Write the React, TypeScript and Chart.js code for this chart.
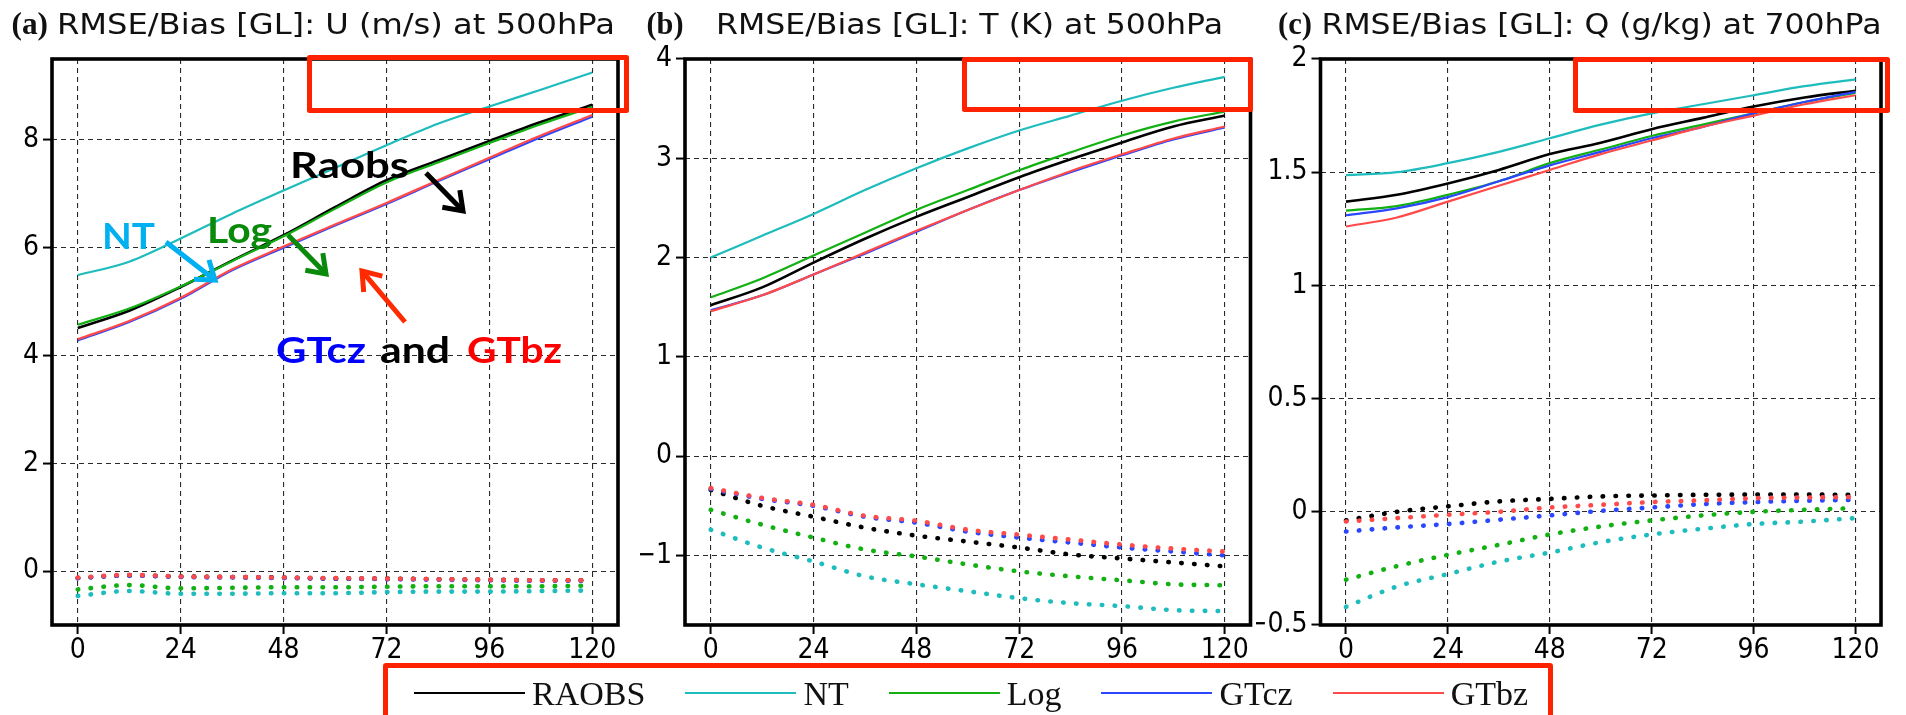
import React, { useEffect, useRef } from 'react';
import { Chart, registerables } from 'chart.js';

Chart.register(...registerables);

// ---------------- DATA ----------------
const HOURS = [0, 12, 24, 36, 48, 60, 72, 84, 96, 108, 120];
const X_TICKS = [0, 24, 48, 72, 96, 120];
const U_TICKS = [0, 2, 4, 6, 8];
const T_TICKS = [-1, 0, 1, 2, 3, 4];
const Q_TICKS = [-0.5, 0, 0.5, 1, 1.5, 2];
const SERIES_NAMES = ['RAOBS', 'NT', 'Log', 'GTcz', 'GTbz'];

// (a) U at 500 hPa — RMSE
const U_RMSE_RAOBS = [4.51, 4.83, 5.27, 5.76, 6.23, 6.75, 7.25, 7.62, 7.98, 8.33, 8.65];
const U_RMSE_NT = [5.49, 5.74, 6.17, 6.63, 7.06, 7.48, 7.9, 8.3, 8.62, 8.93, 9.25];
const U_RMSE_LOG = [4.57, 4.87, 5.28, 5.75, 6.21, 6.72, 7.21, 7.58, 7.94, 8.29, 8.61];
const U_RMSE_GTCZ = [4.28, 4.62, 5.05, 5.58, 6.0, 6.41, 6.81, 7.23, 7.64, 8.05, 8.43];
const U_RMSE_GTBZ = [4.3, 4.64, 5.07, 5.6, 6.02, 6.43, 6.83, 7.25, 7.67, 8.08, 8.46];
// (a) U at 500 hPa — Bias
const U_BIAS_RAOBS = [-0.13, -0.08, -0.1, -0.11, -0.12, -0.14, -0.14, -0.15, -0.16, -0.17, -0.17];
const U_BIAS_NT = [-0.46, -0.37, -0.42, -0.42, -0.41, -0.41, -0.39, -0.38, -0.38, -0.37, -0.36];
const U_BIAS_LOG = [-0.34, -0.26, -0.32, -0.31, -0.3, -0.3, -0.29, -0.28, -0.28, -0.28, -0.27];
const U_BIAS_GTCZ = [-0.13, -0.08, -0.11, -0.12, -0.13, -0.14, -0.15, -0.16, -0.17, -0.18, -0.18];
const U_BIAS_GTBZ = [-0.12, -0.07, -0.1, -0.11, -0.12, -0.13, -0.14, -0.15, -0.16, -0.17, -0.17];

// (b) T at 500 hPa — RMSE
const T_RMSE_RAOBS = [1.52, 1.7, 1.95, 2.19, 2.41, 2.61, 2.81, 2.99, 3.16, 3.32, 3.43];
const T_RMSE_NT = [2.0, 2.22, 2.44, 2.68, 2.9, 3.1, 3.28, 3.43, 3.58, 3.71, 3.82];
const T_RMSE_LOG = [1.6, 1.79, 2.02, 2.25, 2.48, 2.68, 2.88, 3.06, 3.23, 3.37, 3.47];
const T_RMSE_GTCZ = [1.47, 1.62, 1.83, 2.04, 2.26, 2.48, 2.68, 2.86, 3.03, 3.19, 3.31];
const T_RMSE_GTBZ = [1.46, 1.62, 1.83, 2.05, 2.27, 2.48, 2.68, 2.87, 3.04, 3.2, 3.32];
// (b) T at 500 hPa — Bias
const T_BIAS_RAOBS = [-0.34, -0.5, -0.61, -0.72, -0.8, -0.86, -0.92, -0.99, -1.03, -1.07, -1.11];
const T_BIAS_NT = [-0.74, -0.92, -1.06, -1.21, -1.29, -1.36, -1.43, -1.48, -1.51, -1.55, -1.56];
const T_BIAS_LOG = [-0.54, -0.69, -0.82, -0.94, -1.01, -1.09, -1.16, -1.21, -1.25, -1.29, -1.3];
const T_BIAS_GTCZ = [-0.33, -0.43, -0.5, -0.61, -0.67, -0.76, -0.82, -0.87, -0.92, -0.96, -1.0];
const T_BIAS_GTBZ = [-0.32, -0.42, -0.49, -0.6, -0.65, -0.74, -0.79, -0.84, -0.89, -0.93, -0.96];

// (c) Q at 700 hPa — RMSE
const Q_RMSE_RAOBS = [1.37, 1.4, 1.45, 1.51, 1.58, 1.63, 1.69, 1.74, 1.79, 1.83, 1.86];
const Q_RMSE_NT = [1.487, 1.5, 1.54, 1.59, 1.65, 1.71, 1.76, 1.8, 1.84, 1.88, 1.91];
const Q_RMSE_LOG = [1.33, 1.35, 1.4, 1.46, 1.54, 1.6, 1.66, 1.71, 1.76, 1.81, 1.85];
const Q_RMSE_GTCZ = [1.31, 1.34, 1.39, 1.46, 1.53, 1.59, 1.65, 1.7, 1.76, 1.81, 1.855];
const Q_RMSE_GTBZ = [1.26, 1.3, 1.37, 1.44, 1.51, 1.58, 1.64, 1.7, 1.75, 1.8, 1.84];
// (c) Q at 700 hPa — Bias
const Q_BIAS_RAOBS = [-0.038, 0.0, 0.024, 0.046, 0.057, 0.068, 0.072, 0.075, 0.076, 0.076, 0.075];
const Q_BIAS_NT = [-0.42, -0.33, -0.275, -0.22, -0.18, -0.134, -0.1, -0.075, -0.054, -0.043, -0.028];
const Q_BIAS_LOG = [-0.3, -0.24, -0.19, -0.146, -0.1, -0.065, -0.038, -0.016, 0.0, 0.009, 0.016];
const Q_BIAS_GTCZ = [-0.087, -0.069, -0.054, -0.035, -0.016, 0.004, 0.019, 0.034, 0.043, 0.049, 0.053];
const Q_BIAS_GTBZ = [-0.043, -0.028, -0.013, 0.0, 0.019, 0.031, 0.043, 0.051, 0.06, 0.063, 0.065];

// ---------------- STYLE / LAYOUT ----------------
const COLORS = ['#000000', '#1ebcbc', '#12b012', '#2a46ff', '#ff4a4a'];
const RED_BOX = '#ff2200';
const TICK_FONT = "'Liberation Sans Narrow', 'DejaVu Sans Condensed', 'Roboto Condensed', sans-serif";
const TITLE_FONT = "'DejaVu Sans', sans-serif";
const LABEL_FONT = "'Liberation Serif', 'Times New Roman', serif";
const ANNOT_FONT = "Lato, 'Open Sans', sans-serif";
const TICK_SIZE = 28;
const PAGE_H = 715;
const PLOT_TOP = 59;
const PLOT_BOTTOM = 625;
const X_AXIS_H = 50;

const PANELS = [
  {
    key: 'a', label: '(a)', title: 'RMSE/Bias [GL]: U (m/s) at 500hPa',
    rmse: [U_RMSE_RAOBS, U_RMSE_NT, U_RMSE_LOG, U_RMSE_GTCZ, U_RMSE_GTBZ],
    bias: [U_BIAS_RAOBS, U_BIAS_NT, U_BIAS_LOG, U_BIAS_GTCZ, U_BIAS_GTBZ],
    yMin: -1, yMax: 9.5, yTicks: U_TICKS,
    canvasLeft: 0, canvasWidth: 640, plotLeft: 52, plotRight: 618,
    labelX: 11.5, labelW: 36.5, titleX: 57, titleW: 558,
    box: [307, 55, 629, 113], annotate: true,
  },
  {
    key: 'b', label: '(b)', title: 'RMSE/Bias [GL]: T (K) at 500hPa',
    rmse: [T_RMSE_RAOBS, T_RMSE_NT, T_RMSE_LOG, T_RMSE_GTCZ, T_RMSE_GTBZ],
    bias: [T_BIAS_RAOBS, T_BIAS_NT, T_BIAS_LOG, T_BIAS_GTCZ, T_BIAS_GTBZ],
    yMin: -1.7, yMax: 4, yTicks: T_TICKS,
    canvasLeft: 640, canvasWidth: 616, plotLeft: 685, plotRight: 1250.5,
    labelX: 646.5, labelW: 37, titleX: 716, titleW: 507,
    box: [962, 57, 1253, 112], annotate: false,
  },
  {
    key: 'c', label: '(c)', title: 'RMSE/Bias [GL]: Q (g/kg) at 700hPa',
    rmse: [Q_RMSE_RAOBS, Q_RMSE_NT, Q_RMSE_LOG, Q_RMSE_GTCZ, Q_RMSE_GTBZ],
    bias: [Q_BIAS_RAOBS, Q_BIAS_NT, Q_BIAS_LOG, Q_BIAS_GTCZ, Q_BIAS_GTBZ],
    yMin: -0.5, yMax: 2, yTicks: Q_TICKS,
    canvasLeft: 1256, canvasWidth: 650, plotLeft: 1320.5, plotRight: 1881,
    labelX: 1278, labelW: 34, titleX: 1321.5, titleW: 560,
    box: [1573, 57, 1890, 113], annotate: false,
  },
];

// annotation layout for panel (a)
const ANNOT_TEXTS = [
  { text: 'Raobs', x: 290, base: 178, w: 119, color: '#000000' },
  { text: 'NT', x: 102, base: 249, w: 53, color: '#00b0f0' },
  { text: 'Log', x: 207, base: 243, w: 65, color: '#0a8a0a' },
  { text: 'GTcz', x: 276, base: 363, w: 90, color: '#0000ff' },
  { text: 'and', x: 380, base: 363, w: 70, color: '#000000' },
  { text: 'GTbz', x: 467, base: 363, w: 95, color: '#ff0000' },
];
const ANNOT_ARROWS = [
  { from: [166, 242], to: [215, 280], color: '#00b0f0' },
  { from: [288, 235], to: [326, 274], color: '#0a8a0a' },
  { from: [426, 173], to: [463, 211], color: '#000000' },
  { from: [405, 322], to: [362, 271], color: '#ff2a00' },
];

function fmtTick(v: number) {
  const s = String(Math.abs(v));
  return v < 0 ? '\u2212' + s : s;
}

function fitText(ctx: CanvasRenderingContext2D, text: string, x: number, base: number, width: number, font: string, color: string) {
  ctx.save();
  ctx.font = font;
  ctx.fillStyle = color;
  ctx.textAlign = 'left';
  ctx.textBaseline = 'alphabetic';
  const w = ctx.measureText(text).width || 1;
  ctx.translate(x, base);
  ctx.scale(width / w, 1);
  ctx.fillText(text, 0, 0);
  ctx.restore();
}

function drawArrow(ctx: CanvasRenderingContext2D, from: number[], to: number[], color: string) {
  const ang = Math.atan2(to[1] - from[1], to[0] - from[0]);
  const head = 21;
  const spread = 0.62;
  ctx.save();
  ctx.strokeStyle = color;
  ctx.lineWidth = 5;
  ctx.lineCap = 'butt';
  ctx.lineJoin = 'miter';
  ctx.beginPath();
  ctx.moveTo(from[0], from[1]);
  ctx.lineTo(to[0] - Math.cos(ang) * 3, to[1] - Math.sin(ang) * 3);
  ctx.stroke();
  ctx.beginPath();
  ctx.moveTo(to[0] - head * Math.cos(ang - spread), to[1] - head * Math.sin(ang - spread));
  ctx.lineTo(to[0], to[1]);
  ctx.lineTo(to[0] - head * Math.cos(ang + spread), to[1] - head * Math.sin(ang + spread));
  ctx.stroke();
  ctx.restore();
}

function makeConfig(p: any) {
  const datasets: any[] = [];
  SERIES_NAMES.forEach((name, i) => {
    datasets.push({
      label: name + ' RMSE',
      data: HOURS.map((h, k) => ({ x: h, y: p.rmse[i][k] })),
      borderColor: COLORS[i],
      backgroundColor: COLORS[i],
      borderWidth: i === 0 ? 2.6 : 2.2,
      pointRadius: 0,
      cubicInterpolationMode: 'monotone',
      fill: false,
      order: 20 - i,
    });
    datasets.push({
      label: name + ' Bias',
      data: HOURS.map((h, k) => ({ x: h, y: p.bias[i][k] })),
      borderColor: COLORS[i],
      backgroundColor: COLORS[i],
      borderWidth: 4.6,
      borderDash: [0.5, 12.4],
      borderCapStyle: 'round',
      pointRadius: 0,
      cubicInterpolationMode: 'monotone',
      fill: false,
      order: 10 - i,
    });
  });

  const off = p.canvasLeft;
  const decor = {
    id: 'decor' + p.key,
    afterDraw(chart: any) {
      const ctx = chart.ctx as CanvasRenderingContext2D;
      const a = chart.chartArea;
      ctx.save();
      // frame
      ctx.strokeStyle = '#000';
      ctx.lineWidth = 3.6;
      ctx.strokeRect(a.left, a.top, a.right - a.left, a.bottom - a.top);
      // title
      fitText(ctx, p.label, p.labelX - off, 34, p.labelW, "bold 31px " + LABEL_FONT, '#111');
      fitText(ctx, p.title, p.titleX - off, 34, p.titleW, "28px " + TITLE_FONT, '#111');
      // highlight box
      const [x0, y0, x1, y1] = p.box;
      ctx.strokeStyle = RED_BOX;
      ctx.lineWidth = 5;
      ctx.lineJoin = 'round';
      ctx.strokeRect(x0 - off + 2.5, y0 + 2.5, x1 - x0 - 5, y1 - y0 - 5);
      if (p.annotate) {
        ANNOT_TEXTS.forEach(t => fitText(ctx, t.text, t.x - off, t.base, t.w, "bold 37px " + ANNOT_FONT, t.color));
        ANNOT_ARROWS.forEach(ar => drawArrow(ctx, [ar.from[0] - off, ar.from[1]], [ar.to[0] - off, ar.to[1]], ar.color));
      }
      ctx.restore();
    },
  };

  const gridCommon = {
    color: '#2a2a2a',
    lineWidth: 1.1,
    tickLength: 9,
    tickColor: '#000',
    tickWidth: 2,
    drawTicks: true,
  };

  return {
    type: 'line',
    data: { datasets },
    options: {
      animation: false,
      responsive: false,
      devicePixelRatio: 1,
      events: [],
      layout: {
        padding: {
          left: 0,
          right: p.canvasLeft + p.canvasWidth - p.plotRight,
          top: PLOT_TOP,
          bottom: PAGE_H - PLOT_BOTTOM - X_AXIS_H,
        },
      },
      plugins: { legend: { display: false }, title: { display: false }, tooltip: { enabled: false } },
      scales: {
        x: {
          type: 'linear',
          min: -6,
          max: 126,
          afterBuildTicks: (s: any) => { s.ticks = X_TICKS.map(v => ({ value: v })); },
          afterFit: (s: any) => { s.height = X_AXIS_H; },
          grid: gridCommon,
          border: { display: false, dash: [5, 4] },
          ticks: {
            color: '#000',
            font: { family: TICK_FONT, size: TICK_SIZE },
            padding: 0,
            maxRotation: 0,
            autoSkip: false,
            callback: (v: any) => fmtTick(Number(v)),
          },
        },
        y: {
          type: 'linear',
          min: p.yMin,
          max: p.yMax,
          afterBuildTicks: (s: any) => { s.ticks = p.yTicks.map((v: number) => ({ value: v })); },
          afterFit: (s: any) => { s.width = p.plotLeft - p.canvasLeft; },
          grid: gridCommon,
          border: { display: false, dash: [5, 4] },
          ticks: {
            color: '#000',
            font: { family: TICK_FONT, size: TICK_SIZE },
            padding: 4,
            autoSkip: false,
            callback: (v: any) => fmtTick(Number(v)),
          },
        },
      },
    },
    plugins: [decor],
  };
}

function Panel({ spec }: { spec: any }) {
  const ref = useRef<HTMLCanvasElement | null>(null);
  useEffect(() => {
    if (!ref.current) return;
    const chart = new Chart(ref.current, makeConfig(spec) as any);
    return () => chart.destroy();
  }, [spec]);
  return (
    <canvas
      ref={ref}
      width={spec.canvasWidth}
      height={PAGE_H}
      style={{ position: 'absolute', left: spec.canvasLeft, top: 0, width: spec.canvasWidth, height: PAGE_H }}
    />
  );
}

function Legend() {
  return (
    <div
      style={{
        position: 'absolute', left: 383, top: 663, width: 1170, height: 90,
        border: '5px solid ' + RED_BOX, boxSizing: 'border-box', borderRadius: 3,
      }}
    >
      <div style={{ position: 'absolute', left: 26, top: 4, display: 'flex', alignItems: 'center', height: 42 }}>
        {SERIES_NAMES.map((name, i) => (
          <div key={name} style={{ display: 'flex', alignItems: 'center', marginRight: 40 }}>
            <div style={{ width: 111, height: 2.5, background: COLORS[i], marginRight: 7 }} />
            <span style={{ fontFamily: LABEL_FONT, fontSize: 34, lineHeight: '34px', color: '#111', position: 'relative', top: 1 }}>{name}</span>
          </div>
        ))}
      </div>
    </div>
  );
}

export default function App() {
  return (
    <div style={{ position: 'fixed', left: 0, top: 0, width: 1906, height: PAGE_H, overflow: 'hidden', background: '#fff' }}>
      {PANELS.map(p => <Panel key={p.key} spec={p} />)}
      <Legend />
    </div>
  );
}
